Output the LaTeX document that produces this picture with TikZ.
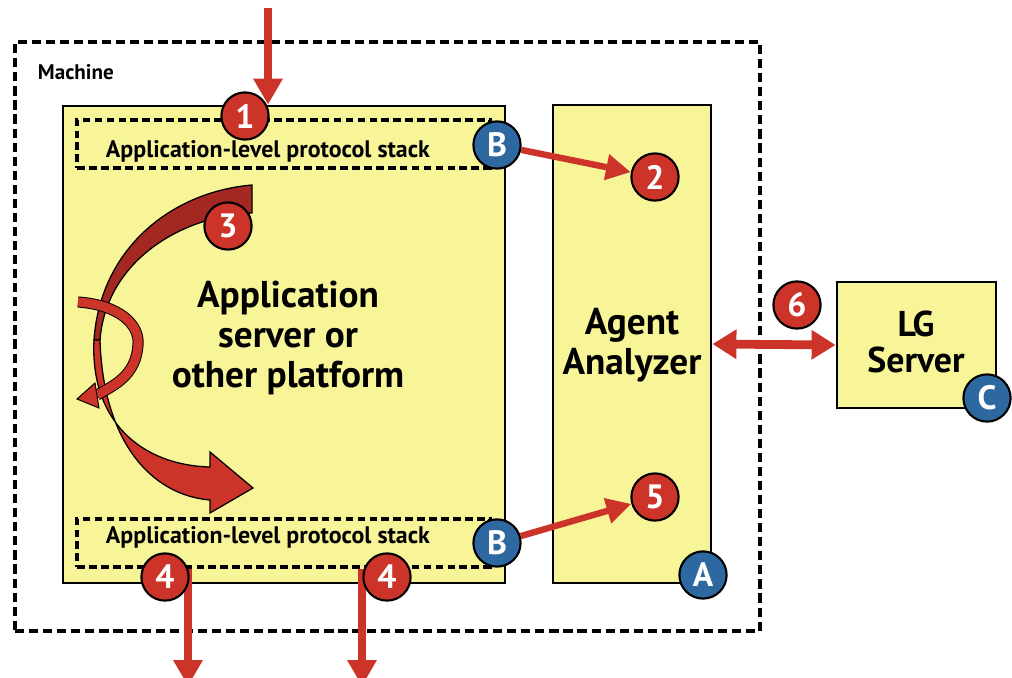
\documentclass[tikz,border=0pt]{standalone}
\usepackage{fontspec}
\setmainfont{PT Sans}
\usetikzlibrary{arrows.meta,positioning,fit}
\definecolor{boxyellow}{RGB}{248,244,152}
\definecolor{markred}{RGB}{205,52,41}
\definecolor{darkred}{RGB}{163,40,34}
\definecolor{markblue}{RGB}{46,104,160}
\pgfdeclarelayer{front}
\pgfsetlayers{main,front}

\begin{document}
\begin{tikzpicture}[x=0.025cm, y=-0.025cm,
    box/.style={rectangle, draw, line width=2pt, fill=boxyellow, inner sep=0pt},
    stack/.style={rectangle, draw, dash pattern=on 5.5pt off 3pt, line width=2.4pt, inner sep=0pt},
    badge/.style={circle, draw, line width=1.5pt, minimum size=1.18cm, inner sep=0pt, text=white, font=\fontsize{24}{24}\selectfont\bfseries},
    redbadge/.style={badge, fill=markred},
    bluebadge/.style={badge, fill=markblue},
    flow/.style={markred, line width=0.22cm, -{Triangle[length=0.65cm, width=0.7cm]}},
    big/.style={font=\fontsize{26.5}{28.5}\selectfont\bfseries, align=center},
    small/.style={font=\fontsize{17}{20}\selectfont\bfseries}
]
\useasboundingbox (0,0) rectangle (1012,677);

% Machine frame
\node[fit={(15,42) (760,631)}, draw, dash pattern=on 6.5pt off 3.5pt, line width=2.6pt, inner sep=0pt] (machine) {};
\node[anchor=west, font=\fontsize{15}{18}\selectfont\bfseries] (machinelabel) at (33,72) {Machine};

% Boxes
\node[box, fit={(63,106) (505,583)}] (appbox) {};
\node[box, fit={(553,105) (711,583)}] (agent) {};
\node[box, fit={(837,282) (996,408)}] (lg) {};
\node[big] (apptext) at (288,338) {Application\\server or\\other platform};
\node[big] (agenttext) at (632,345) {Agent\\Analyzer};
\node[big, font=\fontsize{25.5}{25.5}\selectfont\bfseries] (lgtext) at (916,342) {LG\\Server};

% Protocol stacks
\node[stack, fit={(77,120) (490,168)}] (stacktop) {};
\node[stack, fit={(77,519) (490,567)}] (stackbot) {};
\node[small, anchor=west] (toptext) at (101,151) {Application-level protocol stack};
\node[small, anchor=west] (bottext) at (101,537) {Application-level protocol stack};

% Badges
\begin{pgfonlayer}{front}
\node[redbadge] (one) at (245,116) {1};
\node[redbadge] (two) at (655,177) {2};
\node[redbadge] (three) at (228,226) {3};
\node[redbadge] (fourl) at (165,577) {4};
\node[redbadge] (fourr) at (387,577) {4};
\node[redbadge] (five) at (655,497) {5};
\node[redbadge] (six) at (797,305) {6};
\node[bluebadge] (btop) at (497,145) {B};
\node[bluebadge] (bbot) at (497,543) {B};
\node[bluebadge] (agentmark) at (703,575) {A};
\node[bluebadge] (lgmark) at (987,398) {C};
\end{pgfonlayer}

% Processing loop
\filldraw[fill=darkred, line width=0.9pt] (252,185) .. controls (170,192) and (100,250) .. (94,340)
    -- (100,340) .. controls (106,262) and (180,216) .. (252,213) -- cycle;
\filldraw[fill=markred, line width=0.9pt] (94,340) .. controls (90,420) and (140,465) .. (210,467)
    -- (210,452) -- (253,488) -- (210,513) -- (210,500) .. controls (150,495) and (103,440) .. (100,340) -- cycle;
\draw[line width=0.7pt, double=markred, double distance=6.5pt] (78,302) .. controls (120,305) and (140,325) .. (138,345)
    .. controls (136,375) and (115,385) .. (97,395);
\filldraw[fill=markred, line width=0.7pt] (95,383) -- (77,399) -- (99,408) -- cycle;

% Traffic
\coordinate (in1) at (268,8);
\coordinate (outl) at (188,686);
\coordinate (outr) at (362,686);
\draw[flow] (in1) -- (in1 |- appbox.north);
\draw[flow] (stackbot.south -| outl) -- (outl);
\draw[flow] (stackbot.south -| outr) -- (outr);
\draw[flow, line width=0.16cm, -{Triangle[length=0.62cm, width=0.62cm]}] (btop) -- (two);
\draw[flow, line width=0.16cm, -{Triangle[length=0.62cm, width=0.62cm]}] (bbot) -- (five);
\draw[flow, {Triangle[length=0.6cm, width=0.7cm]}-{Triangle[length=0.6cm, width=0.7cm]}] (agent.east) -- (lg.west);

\end{tikzpicture}
\end{document}
